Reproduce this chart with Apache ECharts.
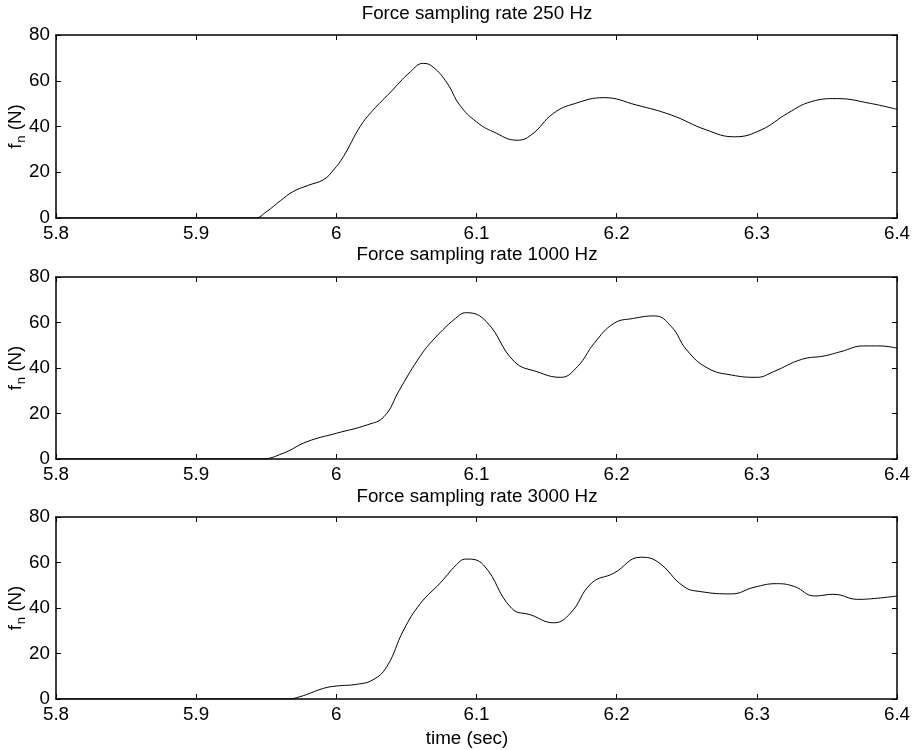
<!DOCTYPE html>
<html>
<head>
<meta charset="utf-8">
<title>Force sampling rate</title>
<script src="https://cdn.jsdelivr.net/npm/echarts@6/dist/echarts.min.js"></script>
<style>
  html, body { margin: 0; padding: 0; background: #fff; }
  #chart { width: 914px; height: 750px; }
</style>
</head>
<body>
<div id="chart"></div>
<script>
// [time (sec), f_n (N)]
const force250 = [
  [5.8, 0], [5.942, 0], [5.950, 2.7], [5.960, 7.5], [5.969, 11.5], [5.980, 14.3],
  [5.991, 16.8], [5.998, 21], [6.005, 26.8], [6.017, 40], [6.026, 47], [6.038, 54.6],
  [6.053, 64], [6.062, 67.6], [6.069, 66], [6.079, 59], [6.088, 49.4], [6.100, 42],
  [6.112, 37.7], [6.129, 34], [6.139, 36.3], [6.155, 45.8], [6.170, 50], [6.191, 52.6],
  [6.214, 49.4], [6.239, 45], [6.264, 38.5], [6.284, 35.5], [6.303, 38.5], [6.322, 45.8],
  [6.339, 50.9], [6.357, 52.2], [6.381, 50.1], [6.400, 47.5]
]
const force1000 = [
  [5.8, 0], [5.946, 0], [5.962, 2.5], [5.979, 7.6], [6.000, 11.3], [6.022, 15],
  [6.034, 18.6], [6.045, 30.3], [6.058, 43.5], [6.069, 52.3], [6.088, 63.3], [6.093, 64.3],
  [6.107, 60.4], [6.127, 42.8], [6.143, 38.4], [6.160, 35.9], [6.172, 40.6], [6.184, 50.9],
  [6.198, 59.6], [6.212, 61.8], [6.227, 62.9], [6.239, 58.2], [6.250, 47.9], [6.265, 39.9],
  [6.282, 36.9], [6.300, 35.9], [6.312, 38.4], [6.332, 43.8], [6.348, 45.3], [6.360, 47.2],
  [6.376, 49.7], [6.388, 49.7], [6.400, 48.7]
]
const force3000 = [
  [5.8, 0], [5.965, 0], [5.974, 1], [5.991, 4.7], [6.000, 5.7], [6.015, 6.5],
  [6.026, 8.4], [6.036, 14.2], [6.048, 30.3], [6.060, 42], [6.074, 50.9], [6.088, 60.4],
  [6.093, 61.5], [6.105, 58.9], [6.125, 39.9], [6.139, 36.9], [6.155, 33.5], [6.167, 37.7],
  [6.182, 50.9], [6.198, 55.3], [6.217, 62.3], [6.229, 60.4], [6.248, 49.4], [6.260, 47.2],
  [6.282, 46.2], [6.298, 49.1], [6.314, 50.7], [6.327, 49.4], [6.341, 45.3], [6.355, 46],
  [6.372, 43.8], [6.386, 44.3], [6.400, 45.3]
]
const panelTitles = ['Force sampling rate 250 Hz', 'Force sampling rate 1000 Hz', 'Force sampling rate 3000 Hz']
const panelData = [force250, force1000, force3000]

const font = 'Liberation Sans, Arial, Helvetica, sans-serif'
const fs = 18.8
const gridTops = [35, 277, 517]
const gridHeights = [183, 182, 182]
const titleTops = [4, 245, 487]

const chart = echarts.init(document.getElementById('chart'))

const grids = []
const xAxes = []
const yAxes = []
const titles = []
const series = []

const line = { show: true, onZero: false, lineStyle: { color: '#000', width: 1.5 } }
const tick = { show: true, inside: true, length: 5, lineStyle: { color: '#000', width: 1 } }

for (let i = 0; i < 3; i++) {
  grids.push({ left: 56, top: gridTops[i], width: 841, height: gridHeights[i], outerBoundsMode: 'none' })
  titles.push({
    text: panelTitles[i], left: 477, top: titleTops[i], textAlign: 'center', padding: 0,
    textStyle: { fontFamily: font, fontSize: fs, fontWeight: 'normal', color: '#000' }
  })
  // bottom and top x axes
  xAxes.push({
    type: 'value', gridIndex: i, min: 5.8, max: 6.4, interval: 0.1, position: 'bottom',
    axisLine: line, axisTick: tick, splitLine: { show: false },
    axisLabel: { margin: 6, fontFamily: font, fontSize: fs, color: '#000' }
  })
  xAxes.push({
    type: 'value', gridIndex: i, min: 5.8, max: 6.4, interval: 0.1, position: 'top',
    axisLine: line, axisTick: tick, splitLine: { show: false }, axisLabel: { show: false }
  })
  // left and right y axes
  yAxes.push({
    type: 'value', gridIndex: i, min: 0, max: 80, interval: 20, position: 'left',
    axisLine: line, axisTick: tick, splitLine: { show: false },
    axisLabel: { margin: 6, fontFamily: font, fontSize: fs, color: '#000' },
    name: '{f|f}{n|n}{t| (N)}', nameLocation: 'middle', nameRotate: 90, nameGap: 30,
    nameMoveOverlap: false,
    nameTextStyle: {
      color: '#000',
      rich: {
        f: { fontFamily: font, fontSize: fs, lineHeight: 20, color: '#000' },
        n: { fontFamily: font, fontSize: 13, lineHeight: 16, padding: [10, 0, 0, 1], color: '#000' },
        t: { fontFamily: font, fontSize: fs, lineHeight: 20, color: '#000' }
      }
    }
  })
  yAxes.push({
    type: 'value', gridIndex: i, min: 0, max: 80, interval: 20, position: 'right',
    axisLine: line, axisTick: tick, splitLine: { show: false }, axisLabel: { show: false }
  })
  series.push({
    type: 'line', xAxisIndex: i * 2, yAxisIndex: i * 2, data: panelData[i],
    smooth: 0.45, showSymbol: false, symbol: 'none', clip: true,
    lineStyle: { color: '#000', width: 1 }
  })
}

titles.push({
  text: 'time (sec)', left: 467, top: 729, textAlign: 'center', padding: 0,
  textStyle: { fontFamily: font, fontSize: fs, fontWeight: 'normal', color: '#000' }
})

chart.setOption({
  backgroundColor: '#fff',
  animation: false,
  title: titles,
  grid: grids,
  xAxis: xAxes,
  yAxis: yAxes,
  series: series
})
</script>
</body>
</html>
